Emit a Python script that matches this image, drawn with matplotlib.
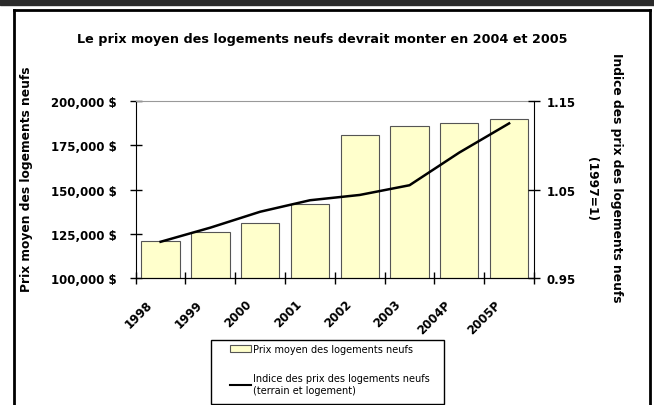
import matplotlib
matplotlib.use('Agg')
from matplotlib import pyplot as plt
from matplotlib.patches import Rectangle, Patch
from matplotlib.lines import Line2D
from matplotlib.ticker import FuncFormatter
from matplotlib.transforms import ScaledTranslation
import numpy as np

years = ['1998', '1999', '2000', '2001', '2002', '2003', '2004P', '2005P']
avg_price = [120700, 126000, 131200, 141600, 181000, 186000, 188000, 189800]
price_index = [0.991, 1.007, 1.025, 1.038, 1.044, 1.055, 1.092, 1.125]

title = 'Le prix moyen des logements neufs devrait monter en 2004 et 2005'
left_label = 'Prix moyen des logements neufs'
right_label = 'Indice des prix des logements neufs'
right_label2 = '(1997=1)'
bar_label = 'Prix moyen des logements neufs'
line_label = 'Indice des prix des logements neufs\n(terrain et logement)'

plt.rcParams['font.family'] = ['DejaVu Sans']

W, H = 654, 406
fig = plt.figure(figsize=(W / 100, H / 100), dpi=100)

# frame around the chart
fig.patches.append(Rectangle((0, 1 - 6 / H), 1, 6 / H, transform=fig.transFigure,
                             color='#2b2b2b', zorder=0))
for xs, ys in [([13.5, 13.5], [0, H - 11]), ([649.5, 649.5], [0, H - 11]),
               ([13.5, 649.5], [H - 11, H - 11])]:
    fig.lines.append(Line2D(np.array(xs) / W, np.array(ys) / H, transform=fig.transFigure,
                            color='black', lw=2))

ax = fig.add_axes([135.7 / W, 1 - 279 / H, (534 - 135.7) / W, (279 - 102.3) / H])
x = np.arange(len(years))
ax.bar(x, avg_price, width=0.77, color='#ffffcc', edgecolor='#555555', linewidth=0.8, zorder=2)
ax.set_xlim(-0.5, len(years) - 0.5)
ax.set_ylim(100000, 200000)
ax.set_yticks(np.arange(100000, 200001, 25000))
ax.yaxis.set_major_formatter(FuncFormatter(lambda v, p: f'{int(v):,} $'))
ax.tick_params(axis='y', direction='inout', length=8, width=1, labelsize=8.5, pad=10)
for lab in ax.get_yticklabels():
    lab.set_fontweight('bold')

ax.set_xticks(x)
ax.set_xticklabels(years, rotation=45, ha='right', va='top', rotation_mode='anchor',
                   fontsize=8.5, fontweight='bold')
ax.tick_params(axis='x', which='major', length=0, pad=14)
shift = ScaledTranslation(-15 / 100, 0, fig.dpi_scale_trans)
for lab in ax.get_xticklabels():
    lab.set_transform(lab.get_transform() + shift)
ax.set_xticks(np.arange(-0.5, len(years)), minor=True)
ax.tick_params(axis='x', which='minor', direction='inout', length=8, width=1)

ax.spines['top'].set_color('#999999')
ax.spines['right'].set_visible(False)

ax2 = ax.twinx()
ax2.plot(x, price_index, color='black', lw=1.8, zorder=3)
ax2.set_ylim(0.95, 1.15)
ax2.set_yticks([0.95, 1.05, 1.15])
ax2.yaxis.set_major_formatter(FuncFormatter(lambda v, p: f'{v:.2f}'))
ax2.tick_params(axis='y', direction='inout', length=8, width=1, labelsize=8.5, pad=5)
for lab in ax2.get_yticklabels():
    lab.set_fontweight('bold')
ax2.spines['top'].set_visible(False)
ax2.spines['left'].set_visible(False)

fig.text(322.5 / W, 1 - 40 / H, title, ha='center', va='center', fontsize=9.2, fontweight='bold')
fig.text(27 / W, 1 - 179 / H, left_label, rotation=90, ha='center', va='center',
         fontsize=8.8, fontweight='bold')
fig.text(616 / W, 1 - 178 / H, right_label, rotation=270, ha='center', va='center',
         fontsize=8.8, fontweight='bold')
fig.text(591 / W, 1 - 189 / H, right_label2, rotation=270, ha='center', va='center',
         fontsize=8.8, fontweight='bold')

# legend box drawn by hand, entries placed inside it
fig.patches.append(Rectangle((211 / W, 1 - 405 / H), (444 - 211) / W, (405 - 341) / H,
                             transform=fig.transFigure, facecolor='white',
                             edgecolor='black', lw=1, zorder=5))
handles = [Patch(facecolor='#ffffcc', edgecolor='#555555', linewidth=0.8),
           Line2D([0], [0], color='black', lw=1.5)]
leg = fig.legend(handles, [bar_label, line_label], loc='upper left',
                 bbox_to_anchor=(230 / W, 1 - 345 / H), fontsize=7, frameon=False,
                 handlelength=2.2, handletextpad=0.15, labelspacing=2.0,
                 borderpad=0, borderaxespad=0)
leg.set_zorder(6)

fig.savefig('out.png', dpi=100)
